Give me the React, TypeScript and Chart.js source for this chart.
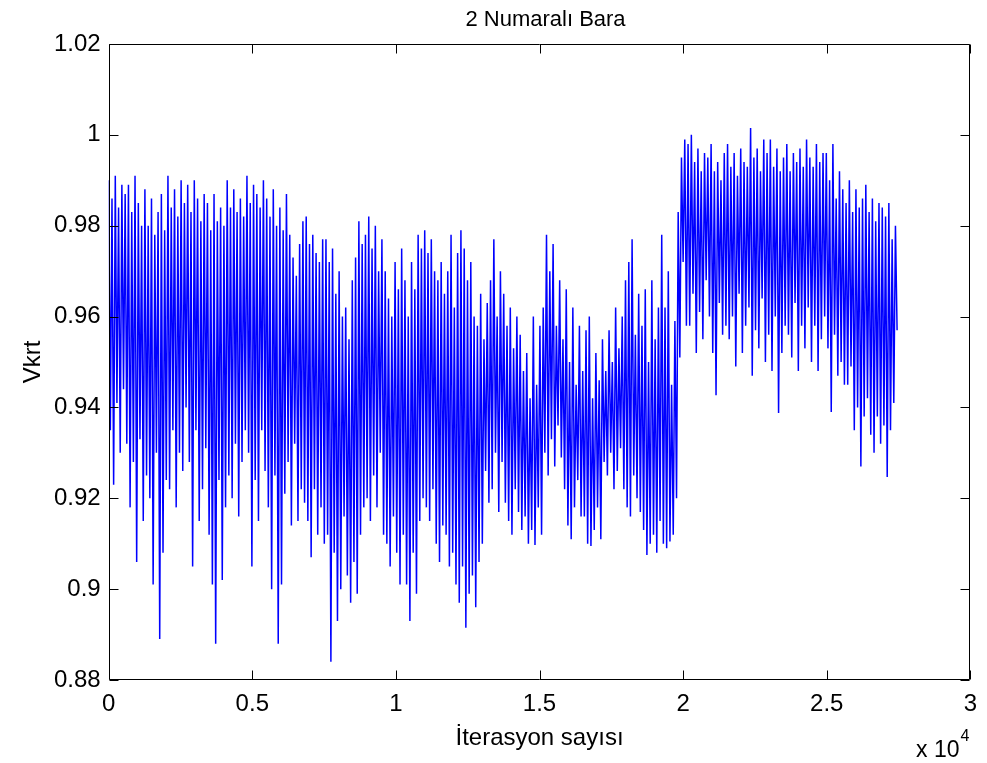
import { useEffect, useRef } from "react";
import { Chart, registerables } from "chart.js";

Chart.register(...registerables);

const titleText = "2 Numaralı Bara";
const xAxisTitle = "İterasyon sayısı";
const yAxisTitle = "Vkrt";
const xExponentBase = "x 10";
const xExponent = "4";

const xTickValues = [0, 5000, 10000, 15000, 20000, 25000, 30000];
const xTickLabels = ["0", "0.5", "1", "1.5", "2", "2.5", "3"];
const yTickValues = [0.88, 0.9, 0.92, 0.94, 0.96, 0.98, 1.0, 1.02];
const yTickLabels = ["0.88", "0.9", "0.92", "0.94", "0.96", "0.98", "1", "1.02"];

const lastIteration = 27450;

// local maxima of the oscillation, left to right
const peakValues = [
  0.990, 0.986, 0.991, 0.984, 0.989, 0.987,
  0.989, 0.983, 0.991, 0.985, 0.980, 0.988,
  0.980, 0.986, 0.978, 0.983, 0.987, 0.979,
  0.991, 0.984, 0.988, 0.982, 0.990, 0.985,
  0.989, 0.983, 0.990, 0.986, 0.981, 0.987,
  0.985, 0.979, 0.987, 0.981, 0.984, 0.980,
  0.990, 0.984, 0.988, 0.983, 0.986, 0.982,
  0.991, 0.985, 0.989, 0.987, 0.984, 0.990,
  0.986, 0.982, 0.988, 0.980, 0.984, 0.979,
  0.987, 0.978, 0.973, 0.969, 0.976, 0.981,
  0.982, 0.976, 0.978, 0.974, 0.972, 0.977,
  0.977, 0.972, 0.975, 0.965, 0.970, 0.960,
  0.962, 0.955, 0.968, 0.973, 0.981, 0.976,
  0.978, 0.982, 0.975, 0.980, 0.970, 0.977,
  0.970, 0.964, 0.960, 0.972, 0.966, 0.975,
  0.968, 0.960, 0.972, 0.966, 0.978, 0.975,
  0.979, 0.974, 0.977, 0.970, 0.968, 0.972,
  0.965, 0.970, 0.978, 0.962, 0.974, 0.979,
  0.975, 0.968, 0.972, 0.960, 0.958, 0.965,
  0.955, 0.963, 0.968, 0.977, 0.960, 0.970,
  0.965, 0.958, 0.962, 0.953, 0.960, 0.956,
  0.948, 0.952, 0.942, 0.960, 0.945, 0.958,
  0.962, 0.978, 0.970, 0.976, 0.958, 0.968,
  0.955, 0.966, 0.950, 0.962, 0.945, 0.958,
  0.948, 0.957, 0.960, 0.942, 0.952, 0.946,
  0.955, 0.948, 0.957, 0.950, 0.962, 0.953,
  0.960, 0.968, 0.972, 0.977, 0.956, 0.965,
  0.958, 0.966, 0.950, 0.968, 0.955, 0.962,
  0.978, 0.962, 0.970,
  0.945, 0.959, 0.983, 0.995, 0.999,
  0.998, 1.000, 0.994, 0.997, 0.992, 0.996,
  0.995, 0.998, 0.992, 0.994, 0.990, 0.996,
  0.998, 0.993, 0.996, 0.991, 0.997, 0.994,
  0.993, 1.0015, 0.995, 0.997, 0.992, 0.999,
  0.996, 0.999, 0.993, 0.997, 0.992, 0.995,
  0.998, 0.992, 0.996, 0.994, 0.997, 0.993,
  0.999, 0.995, 0.993, 0.998, 0.994, 0.996,
  0.996, 0.990, 0.998, 0.986, 0.992, 0.988,
  0.985, 0.990, 0.983, 0.988, 0.984, 0.986,
  0.989, 0.983, 0.986, 0.981, 0.985, 0.984,
  0.982, 0.985, 0.977, 0.980,
];

// local minima of the oscillation, left to right
const troughValues = [
  0.935, 0.923, 0.941, 0.930, 0.944, 0.932,
  0.918, 0.928, 0.906, 0.933, 0.915, 0.925,
  0.920, 0.901, 0.930, 0.889, 0.908, 0.924,
  0.922, 0.935, 0.918, 0.930, 0.926, 0.940,
  0.928, 0.905, 0.935, 0.915, 0.922, 0.931,
  0.912, 0.901, 0.888, 0.924, 0.902, 0.918,
  0.925, 0.920, 0.932, 0.916, 0.928, 0.935,
  0.930, 0.905, 0.924, 0.915, 0.935, 0.926,
  0.918, 0.900, 0.925, 0.888, 0.901, 0.921,
  0.928, 0.914, 0.932, 0.915, 0.922, 0.919,
  0.915, 0.907, 0.922, 0.912, 0.918, 0.910,
  0.912, 0.884, 0.908, 0.893, 0.900, 0.916,
  0.903, 0.897, 0.906, 0.899, 0.912, 0.918,
  0.920, 0.915, 0.925, 0.918, 0.930, 0.912,
  0.910, 0.905, 0.916, 0.908, 0.901, 0.912,
  0.901, 0.893, 0.908, 0.899, 0.915, 0.920,
  0.918, 0.915, 0.922, 0.910, 0.906, 0.914,
  0.912, 0.905, 0.908, 0.901, 0.897, 0.905,
  0.8915, 0.899, 0.903, 0.896, 0.906, 0.910,
  0.926, 0.919, 0.922, 0.930, 0.917, 0.928,
  0.919, 0.915, 0.912, 0.922, 0.917, 0.913,
  0.916, 0.910, 0.913, 0.9097, 0.918, 0.912,
  0.930, 0.925, 0.933, 0.927, 0.936, 0.929,
  0.922, 0.914, 0.911, 0.918, 0.924, 0.916,
  0.916, 0.910, 0.9095, 0.913, 0.918, 0.911,
  0.928, 0.925, 0.930, 0.922, 0.926, 0.931,
  0.922, 0.918, 0.916, 0.925, 0.920, 0.917,
  0.913, 0.9075, 0.910, 0.912, 0.908, 0.915,
  0.910, 0.909, 0.9105,
  0.912, 0.920, 0.951, 0.972, 0.958,
  0.958, 0.965, 0.952, 0.961, 0.955, 0.968,
  0.960, 0.952, 0.9427, 0.963, 0.956, 0.958,
  0.955, 0.960, 0.949, 0.965, 0.952, 0.958,
  0.962, 0.947, 0.957, 0.953, 0.964, 0.950,
  0.956, 0.948, 0.960, 0.9388, 0.952, 0.958,
  0.956, 0.951, 0.963, 0.948, 0.958, 0.953,
  0.962, 0.950, 0.958, 0.948, 0.955, 0.960,
  0.953, 0.939, 0.956, 0.947, 0.950, 0.945,
  0.945, 0.949, 0.935, 0.940, 0.927, 0.938,
  0.942, 0.934, 0.930, 0.938, 0.932, 0.936,
  0.9247, 0.935, 0.941, 0.957,
];

const FONT = "'Liberation Sans', Arial, Helvetica, sans-serif";

export default function App() {
  const canvasRef = useRef<HTMLCanvasElement | null>(null);

  useEffect(() => {
    const canvas = canvasRef.current;
    if (!canvas) return;

    const n = Math.min(peakValues.length, troughValues.length);
    const series: number[] = [];
    for (let i = 0; i < n; i++) {
      series.push(peakValues[i], troughValues[i]);
    }
    const step = lastIteration / (series.length - 1);
    const points = series.map((v, i) => ({ x: i * step, y: v }));

    const framePlugin = {
      id: "matlabFrame",
      afterDraw(chart: any) {
        const { ctx, chartArea } = chart;
        const { left, right, top, bottom } = chartArea;
        const xs = chart.scales.x;
        const ys = chart.scales.y;
        const tickLen = 9;
        ctx.save();
        ctx.strokeStyle = "#000";
        ctx.lineWidth = 1;
        const L = Math.round(left) + 0.5;
        const R = Math.round(right) - 0.5;
        const T = Math.round(top) + 0.5;
        const B = Math.round(bottom) - 0.5;
        ctx.beginPath();
        ctx.rect(L, T, R - L, B - T);
        ctx.stroke();
        ctx.beginPath();
        xTickValues.forEach((v) => {
          const px = Math.round(xs.getPixelForValue(v)) + 0.5;
          ctx.moveTo(px, B);
          ctx.lineTo(px, B - tickLen);
          ctx.moveTo(px, T);
          ctx.lineTo(px, T + tickLen);
        });
        yTickValues.forEach((v) => {
          const py = Math.round(ys.getPixelForValue(v)) + 0.5;
          ctx.moveTo(L, py);
          ctx.lineTo(L + tickLen, py);
          ctx.moveTo(R, py);
          ctx.lineTo(R - tickLen, py);
        });
        ctx.stroke();

        ctx.fillStyle = "#000";
        // title
        ctx.font = `22px ${FONT}`;
        ctx.textAlign = "center";
        ctx.textBaseline = "alphabetic";
        ctx.fillText(titleText, (left + right) / 2 + 6, 26);
        // x axis title
        ctx.font = `24px ${FONT}`;
        ctx.fillText(xAxisTitle, (left + right) / 2, 745);
        // y axis title
        ctx.save();
        ctx.translate(40, (top + bottom) / 2);
        ctx.rotate(-Math.PI / 2);
        ctx.textAlign = "center";
        ctx.fillText(yAxisTitle, 0, 0);
        ctx.restore();
        // exponent
        ctx.textAlign = "left";
        ctx.font = `23px ${FONT}`;
        ctx.fillText(xExponentBase, 916, 757);
        const w = ctx.measureText(xExponentBase).width;
        ctx.font = `16px ${FONT}`;
        ctx.fillText(xExponent, 916 + w + 1, 741);
        ctx.restore();
      },
    };

    const chart = new Chart(canvas, {
      type: "line",
      data: {
        datasets: [
          {
            data: points,
            borderColor: "#0000FF",
            borderWidth: 1.5,
            pointRadius: 0,
            fill: false,
            tension: 0,
          },
        ],
      },
      options: {
        animation: false,
        responsive: false,
        parsing: false as any,
        normalized: true,
        layout: { padding: { left: 0, top: 44, right: 10.3, bottom: 0 } },
        plugins: {
          legend: { display: false },
          title: { display: false },
          tooltip: { enabled: false },
        },
        scales: {
          x: {
            type: "linear",
            min: 0,
            max: 30000,
            afterFit: (s: any) => {
              s.height = 83;
            },
            afterBuildTicks: (s: any) => {
              s.ticks = xTickValues.map((v) => ({ value: v }));
            },
            ticks: {
              padding: 10,
              autoSkip: false,
              maxRotation: 0,
              color: "#000",
              font: { family: FONT, size: 24 },
              callback: (v: any) => {
                const i = xTickValues.indexOf(Number(v));
                return i >= 0 ? xTickLabels[i] : "";
              },
            },
            grid: { display: false, drawTicks: false },
            border: { display: false },
          },
          y: {
            type: "linear",
            min: 0.88,
            max: 1.02,
            afterFit: (s: any) => {
              s.width = 108.7;
            },
            afterBuildTicks: (s: any) => {
              s.ticks = yTickValues.map((v) => ({ value: v }));
            },
            ticks: {
              padding: 8,
              autoSkip: false,
              color: "#000",
              font: { family: FONT, size: 24 },
              callback: (v: any) => {
                const i = yTickValues.findIndex((t) => Math.abs(t - Number(v)) < 1e-6);
                return i >= 0 ? yTickLabels[i] : "";
              },
            },
            grid: { display: false, drawTicks: false },
            border: { display: false },
          },
        },
      },
      plugins: [framePlugin],
    });

    return () => chart.destroy();
  }, []);

  return (
    <div style={{ position: "absolute", left: 0, top: 0, width: 987, height: 763, background: "#fff" }}>
      <canvas ref={canvasRef} width={987} height={763} />
    </div>
  );
}
